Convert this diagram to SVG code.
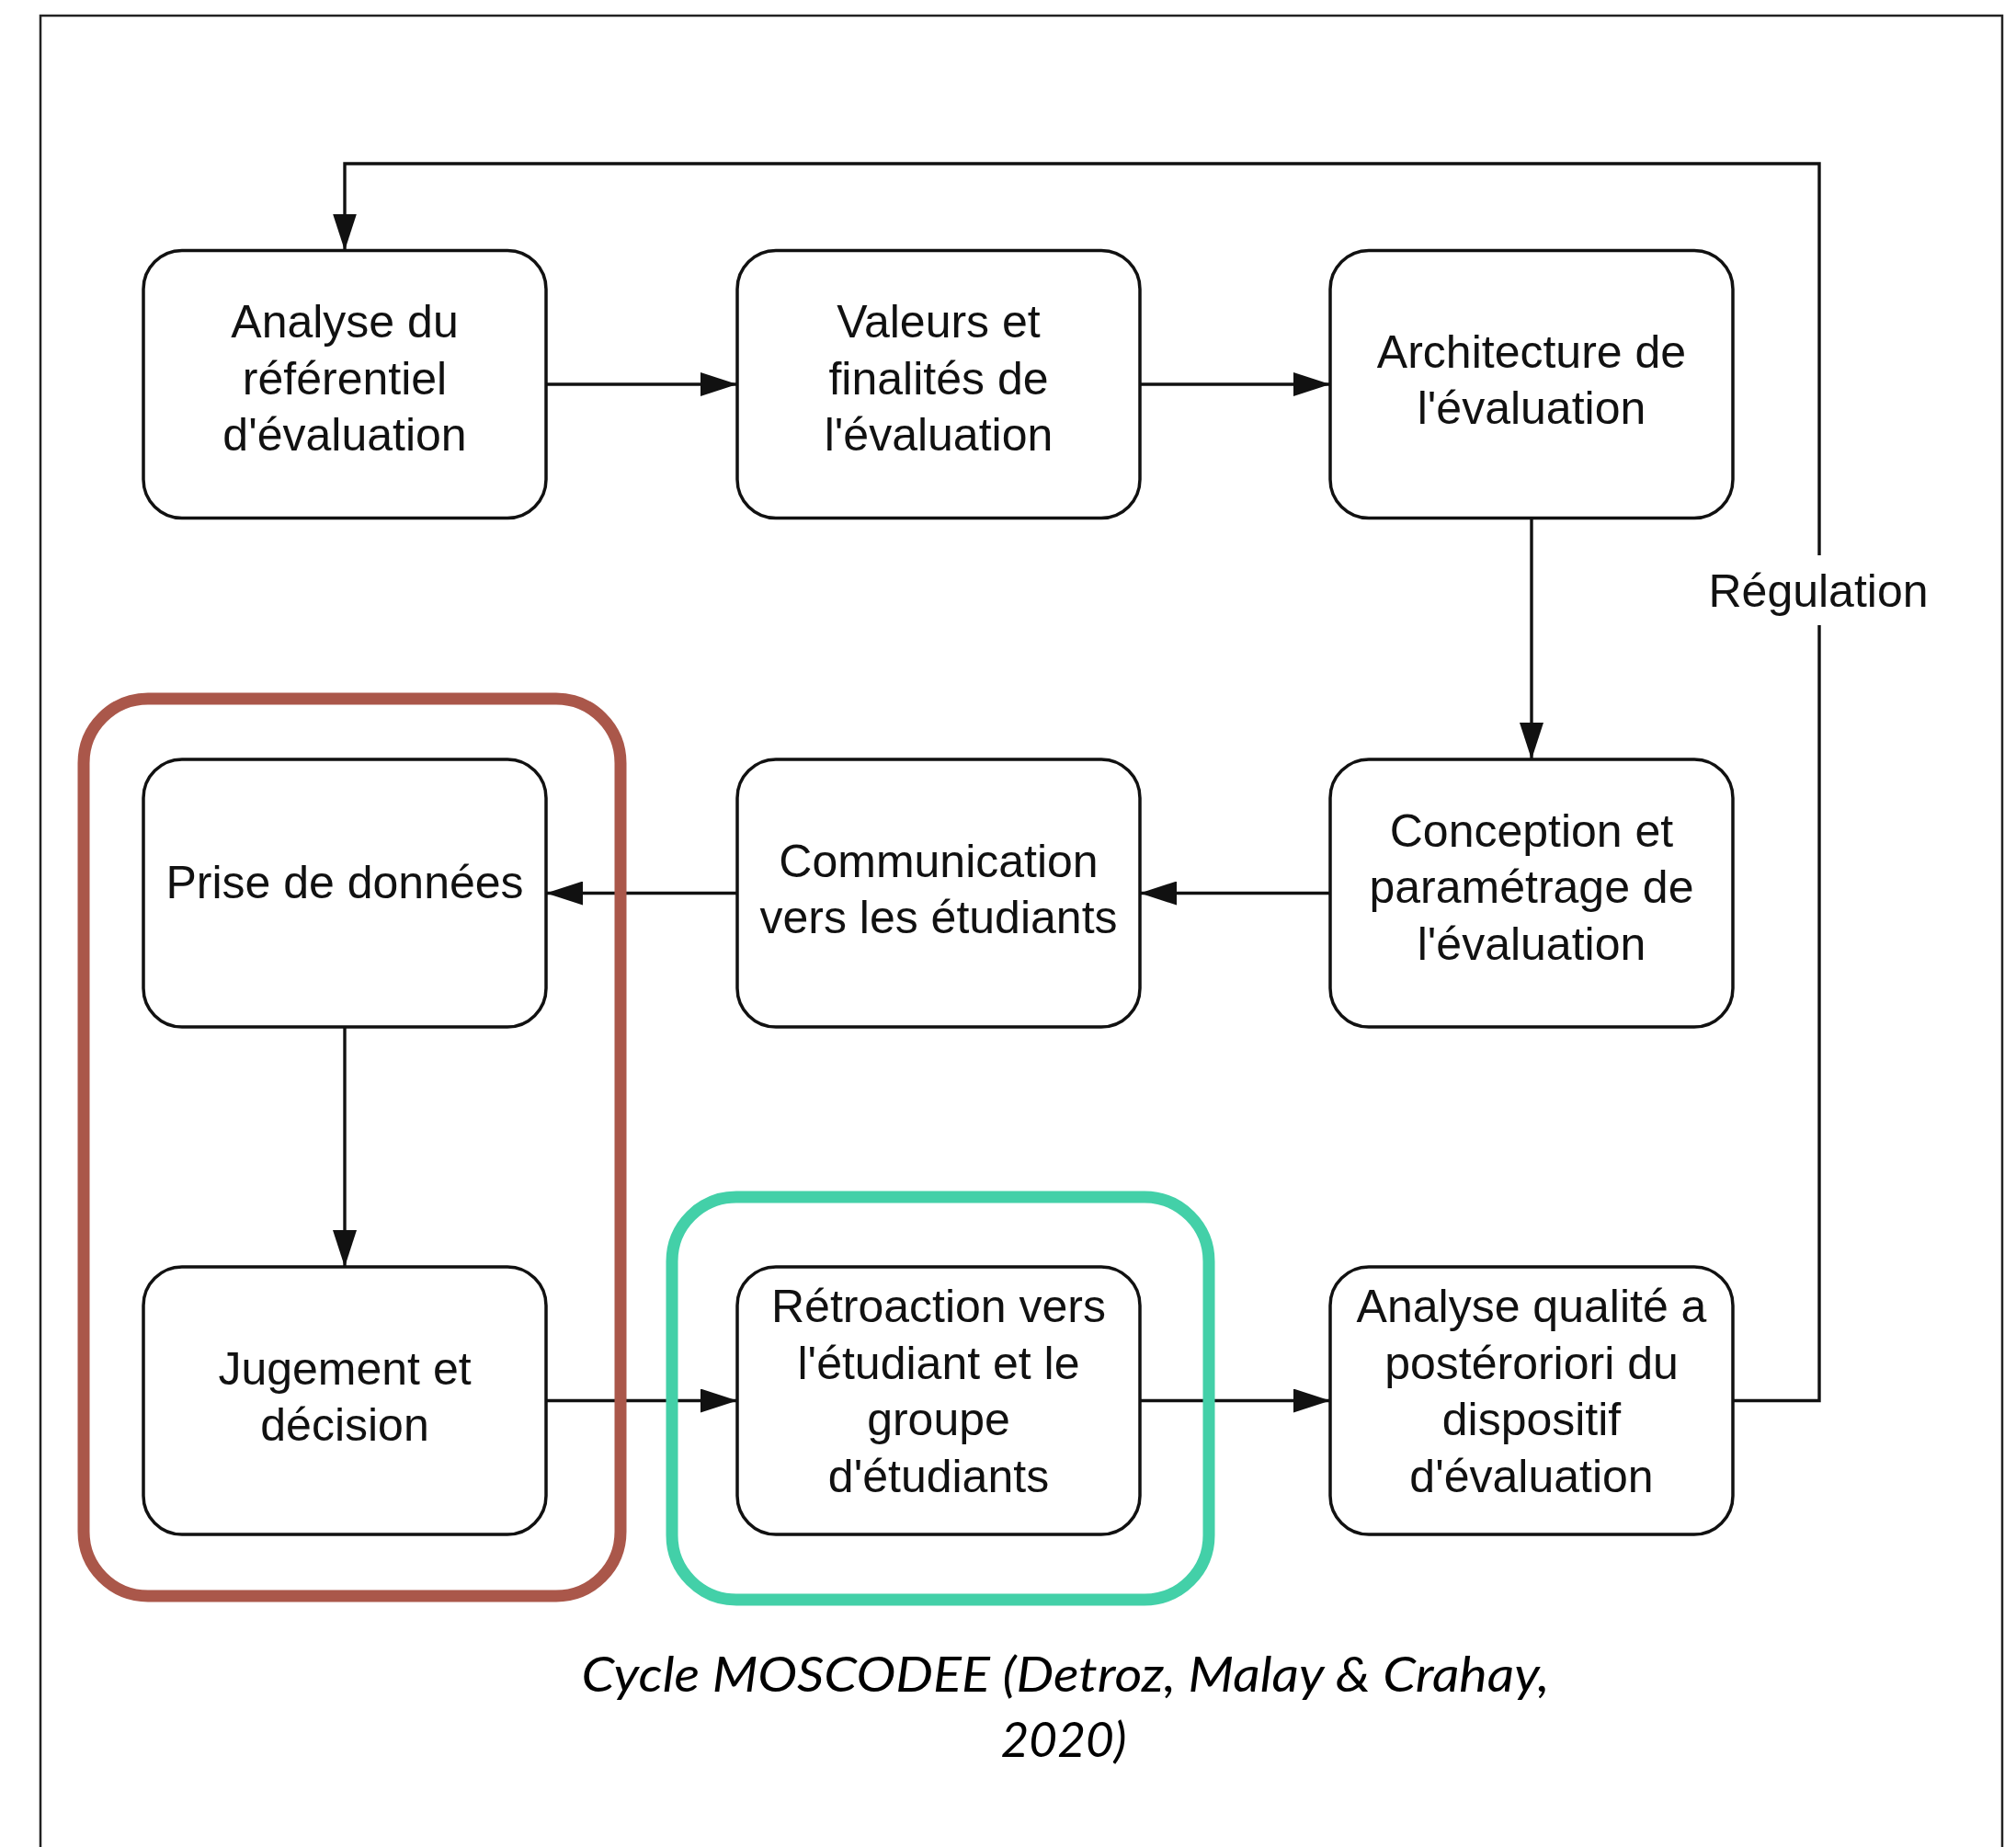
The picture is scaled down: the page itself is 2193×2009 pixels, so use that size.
<svg xmlns="http://www.w3.org/2000/svg" width="2193" height="2009" viewBox="0 0 2193 2009">
<style>
.box{fill:#fff;stroke:#111;stroke-width:3.5}
.lbl{font-family:"Liberation Sans",Arial,sans-serif;font-size:50px;fill:#111;text-anchor:middle}
.con{fill:none;stroke:#111;stroke-width:3.4}
.arr{marker-end:url(#ah)}
.cap{font-family:Lato,"Open Sans",sans-serif;font-style:italic;font-weight:400;font-size:53px;fill:#000;text-anchor:middle}
</style>
<defs>
<marker id="ah" viewBox="0 0 40 26" refX="40" refY="13" markerWidth="40" markerHeight="26" markerUnits="userSpaceOnUse" orient="auto">
<path d="M0,0 L40,13 L0,26 z" fill="#111"/>
</marker>
</defs>
<rect width="2193" height="2009" fill="#fff"/>
<path d="M44,2015 V17 H2178 V2015" fill="none" stroke="#222" stroke-width="2.5"/>

<g id="n1"><rect class="box" x="156" y="272.5" width="438" height="291" rx="42"/>
<text class="lbl" x="375" y="367">Analyse du</text><text class="lbl" x="375" y="429">référentiel</text><text class="lbl" x="375" y="490">d'évaluation</text></g>
<g id="n2"><rect class="box" x="802" y="272.5" width="438" height="291" rx="42"/>
<text class="lbl" x="1021" y="367">Valeurs et</text><text class="lbl" x="1021" y="429">finalités de</text><text class="lbl" x="1021" y="490">l'évaluation</text></g>
<g id="n3"><rect class="box" x="1447" y="272.5" width="438" height="291" rx="42"/>
<text class="lbl" x="1666" y="400">Architecture de</text><text class="lbl" x="1666" y="461">l'évaluation</text></g>
<g id="n4"><rect class="box" x="156" y="826" width="438" height="291" rx="42"/>
<text class="lbl" x="375" y="977">Prise de données</text></g>
<g id="n5"><rect class="box" x="802" y="826" width="438" height="291" rx="42"/>
<text class="lbl" x="1021" y="953.5">Communication</text><text class="lbl" x="1021" y="1015">vers les étudiants</text></g>
<g id="n6"><rect class="box" x="1447" y="826" width="438" height="291" rx="42"/>
<text class="lbl" x="1666" y="920.5">Conception et</text><text class="lbl" x="1666" y="982">paramétrage de</text><text class="lbl" x="1666" y="1043.5">l'évaluation</text></g>
<g id="n7"><rect class="box" x="156" y="1378" width="438" height="291" rx="42"/>
<text class="lbl" x="375" y="1505.5">Jugement et</text><text class="lbl" x="375" y="1567">décision</text></g>
<g id="n8"><rect class="box" x="802" y="1378" width="438" height="291" rx="42"/>
<text class="lbl" x="1021" y="1438">Rétroaction vers</text><text class="lbl" x="1021" y="1499.5">l'étudiant et le</text><text class="lbl" x="1021" y="1561">groupe</text><text class="lbl" x="1021" y="1622.5">d'étudiants</text></g>
<g id="n9"><rect class="box" x="1447" y="1378" width="438" height="291" rx="42"/>
<text class="lbl" x="1666" y="1438">Analyse qualité a</text><text class="lbl" x="1666" y="1499.5">postéroriori du</text><text class="lbl" x="1666" y="1561">dispositif</text><text class="lbl" x="1666" y="1622.5">d'évaluation</text></g>

<g id="connectors">
<path class="con arr" d="M594,418 H802"/>
<path class="con arr" d="M1240,418 H1447"/>
<path class="con arr" d="M1666,563.5 V826"/>
<path class="con arr" d="M1447,971.5 H1240"/>
<path class="con arr" d="M802,971.5 H594"/>
<path class="con arr" d="M375,1117 V1378"/>
<path class="con arr" d="M594,1523.5 H802"/>
<path class="con arr" d="M1240,1523.5 H1447"/>
<path class="con arr" d="M1885,1523.5 H1979 V178 H375 V272.5"/>
<rect x="1855" y="604" width="248" height="76" fill="#fff"/>
<text class="lbl" x="1978" y="660">Régulation</text>
</g>

<g id="groupRed"><rect x="91" y="760" width="584" height="976" rx="70" fill="none" stroke="#AA574A" stroke-width="13"/></g>
<g id="groupGreen"><rect x="731" y="1302" width="584" height="438" rx="70" fill="none" stroke="#43D0A8" stroke-width="13"/></g>

<g id="caption">
<text class="cap" x="1159" y="1840" textLength="1053" lengthAdjust="spacingAndGlyphs">Cycle MOSCODEE (Detroz, Malay &amp; Crahay,</text>
<text class="cap" x="1157" y="1911" textLength="137" lengthAdjust="spacingAndGlyphs">2020)</text>
</g>
</svg>
